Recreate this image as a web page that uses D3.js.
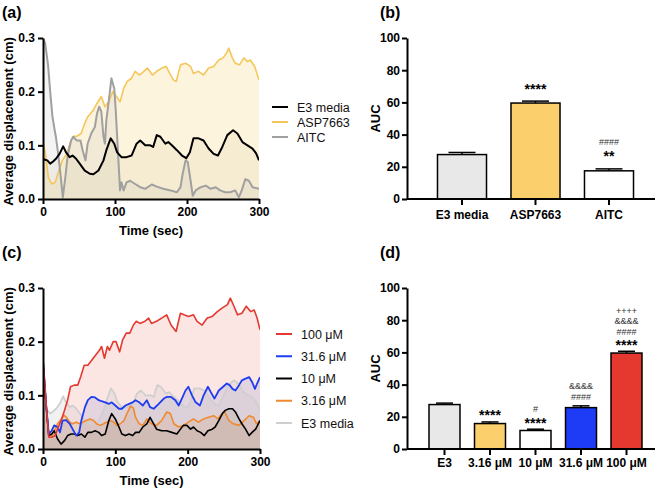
<!DOCTYPE html>
<html><head><meta charset="utf-8">
<script src="https://cdn.jsdelivr.net/npm/d3@7"></script>
<style>body{margin:0;background:#fff} svg{display:block}</style>
</head><body><svg id="c" width="658" height="491"></svg>
<script>
// ---------------- DATA ----------------
// Panel (a) / (c) time series (time in sec, displacement in cm)
const e3Time = [0,3,6,10,14,18,23,28,32,37,41,46,51,58,65,70,77,84,88,94,99,103,109,116,123,130,135,142,149,153,158,163,170,174,179,186,193,199,204,209,216,223,230,237,243,249,256,264,270,277,284,291,296,300];
const e3Vals = [.075,.073,.072,.066,.07,.075,.084,.098,.087,.078,.081,.075,.066,.053,.047,.046,.053,.072,.091,.113,.103,.087,.078,.078,.081,.103,.109,.1,.1,.097,.119,.116,.103,.106,.1,.091,.081,.076,.087,.113,.113,.109,.094,.084,.081,.097,.119,.128,.122,.106,.1,.094,.085,.072];

const aspTime = [0,4,7.5,12,17,22,27,33,38,42,47,53,58,62,70,75,81,86,91,97,102,107,112,117,123,128,134,140,145,152,158,165,171,176,181,185,191,198,205,209,216,223,230,237,244,250,255,258,263,267,273,279,284,288,294,300];
const aspVals = [.109,.078,.04,.028,.031,.053,.072,.084,.106,.117,.117,.122,.141,.153,.166,.178,.191,.172,.181,.2,.191,.181,.206,.219,.225,.238,.231,.238,.244,.231,.238,.244,.247,.234,.222,.219,.25,.253,.247,.234,.238,.231,.244,.247,.259,.263,.272,.281,.263,.253,.25,.263,.256,.259,.247,.222];

const aitcTime = [0,3,7,10,13,16,18,21,24,27.5,31,34,39,42,47,52,55,59,62,67,72,75,78,81,84,86,88,92,95,99,101,105,107,109,112,116,121,128,135,142,151,158,167,177,186,191,194,198,201,205,208,212,219,226,233,240,246,253,260,267,272,276,281,286,291,300];
const aitcVals = [.3,.29,.25,.2,.155,.13,.115,.085,.05,.003,.04,.078,.109,.116,.109,.109,.091,.072,.103,.122,.134,.159,.172,.163,.116,.103,.147,.19,.225,.206,.166,.066,.016,.031,.016,.031,.034,.028,.022,.019,.027,.023,.019,.016,.0125,.022,.047,.072,.069,.034,.006,.016,.022,.025,.019,.022,.016,.0125,.0125,.016,.003,.016,.037,.034,.022,.019];

const c100Time = [0,4.6,8,12,17,20,25,29,34,38,43,48,52,57,62,66,71,78,81,85,89,92,97,101,106,110,115,120,125,129,134,141,146,150,157,164,171,177,184,190,195,201,208,213,220,227,234,241,248,255,259,264,269,275,281,287,292,296,300];
const c100Vals = [.166,.078,.022,.022,.025,.037,.053,.069,.091,.116,.119,.119,.134,.156,.156,.163,.172,.184,.191,.169,.191,.184,.2,.2,.181,.203,.216,.216,.231,.238,.234,.238,.244,.234,.238,.244,.25,.231,.219,.253,.25,.247,.25,.238,.231,.244,.247,.256,.263,.269,.281,.266,.25,.253,.266,.256,.259,.244,.222];

const c31Time = [0,4.6,8,12,15.5,20,23.5,27,32,37,41,46,50,53,58,62,67,72,77,81,86,91,95,100,105,109,114,119,124,128,133,138,143.5,148,153,160,167,171,177,183,187.5,192,197,201,206,211,217,222,228,232,237,243,249,254,258,262,266,271,275,280,285,289,293,296,300];
const c31Vals = [.166,.078,.028,.034,.044,.041,.031,.053,.054,.047,.037,.025,.031,.053,.078,.091,.097,.096,.091,.089,.087,.084,.087,.081,.075,.075,.081,.084,.087,.091,.087,.081,.091,.078,.075,.084,.094,.097,.097,.091,.081,.094,.109,.116,.1,.087,.081,.1,.116,.106,.094,.109,.116,.122,.119,.112,.109,.119,.128,.131,.134,.125,.112,.122,.134];

const c10Time = [0,4.6,8,12,15.5,20,25,30,34,39,44,48,53,58,62,67,72,77,81,86,91,95,100,105,109,114,119,124,128,133,138,143.5,148,153,157,164,171,178,185,190,194,199,204,208,213,218,223,228,234,238,243,248,252,257,262,266,271,275,280,285,289,294,300];
const c10Vals = [.16,.078,.025,.028,.034,.019,.009,.016,.025,.028,.028,.025,.028,.022,.031,.031,.034,.031,.025,.028,.053,.066,.056,.041,.028,.025,.028,.025,.031,.031,.041,.047,.059,.047,.037,.034,.034,.031,.028,.037,.044,.044,.037,.041,.034,.031,.025,.034,.037,.041,.053,.066,.072,.075,.075,.069,.056,.047,.037,.025,.031,.037,.053];

const c3Time = [0,4.6,8,12,16,20,25,29,33,37,41,46,51,55,60,65,70,74,79,84,88,93,98,102,107,112,116,121,125,128,133,138,143.5,150,157,164,171,176,181,187.5,194,201,208,215,222,229,236,242,247,251,257,263,271,278,285,291,295,300];
const c3Vals = [.166,.072,.028,.025,.034,.047,.055,.063,.058,.05,.047,.05,.047,.05,.053,.056,.053,.047,.044,.047,.05,.053,.05,.044,.047,.053,.066,.08,.076,.059,.047,.044,.056,.047,.044,.053,.069,.066,.047,.041,.044,.05,.056,.05,.056,.059,.062,.056,.066,.069,.053,.047,.044,.053,.062,.059,.047,.053];

const lineTicksX = [0,100,200,300];
const lineTicksY = [0,0.1,0.2,0.3];

// Panel (b)
const bCats = ["E3 media","ASP7663","AITC"];
const bVals = [27.6,59.6,17.5];
const bErr  = [1.3,1.2,1.2];
const bAnn  = [[],["****"],["**","####"]];

// Panel (d)
const dCats = ["E3","3.16 μM","10 μM","31.6 μM","100 μM"];
const dVals = [27.6,15.8,11.5,25.7,59.6];
const dErr  = [0.9,1.0,0.8,1.1,1.1];
const dAnn  = [[],["****"],["****","#"],["####","&&&&"],["****","####","&&&&","++++"]];

const barTicksY = [0,20,40,60,80,100];

// ---------------- DRAW ----------------
const FONT = '"Liberation Sans", Arial, Helvetica, sans-serif';
const svg = d3.select('#c');
const C = {yellow:'#f5c65a', gray:'#a0a0a0', black:'#000', red:'#e5392f', blue:'#1e3cf0', orange:'#ef8a2e', lgray:'#cfcfcf'};

function styleAxis(g, fs){
  g.select('.domain').attr('stroke','#000').attr('stroke-width',2);
  g.selectAll('.tick line').attr('stroke','#000').attr('stroke-width',2);
  g.selectAll('.tick text').attr('font-family',FONT).attr('font-weight','bold')
    .attr('font-size',fs||12).attr('fill','#000');
}
function zip(t,v){ return t.map((d,i)=>[d,v[i]]); }

function panelLabel(txt,x,y){
  svg.append('text').attr('x',x).attr('y',y).attr('font-family',FONT).attr('font-weight','bold')
    .attr('font-size',16).text(txt);
}

function linePanel(opt){
  const x = d3.scaleLinear().domain([0,300]).range([opt.x0,opt.x1]);
  const y = d3.scaleLinear().domain([0,0.3]).range([opt.yb,opt.yt]);
  const g = svg.append('g');
  const id = 'clip'+opt.id;
  svg.append('clipPath').attr('id',id).append('rect')
    .attr('x',opt.x0).attr('y',opt.yt-1).attr('width',opt.x1-opt.x0).attr('height',opt.yb-opt.yt+1);
  const area = d3.area().x(d=>x(d[0])).y0(y(0)).y1(d=>y(d[1]));
  const line = d3.line().x(d=>x(d[0])).y(d=>y(d[1]));
  const pg = g.append('g').attr('clip-path',`url(#${id})`);
  opt.series.forEach(s=>{
    pg.append('path').datum(zip(s.t,s.v)).attr('d',area).attr('fill',s.fill).attr('fill-opacity',s.fo).attr('stroke','none');
  });
  opt.drawOrder.forEach(i=>{
    const s = opt.series[i];
    pg.append('path').datum(zip(s.t,s.v)).attr('d',line).attr('fill','none')
      .attr('stroke',s.color).attr('stroke-width',s.w).attr('stroke-linejoin','round');
  });
  const ax = g.append('g').attr('transform',`translate(0,${opt.yb})`)
    .call(d3.axisBottom(x).tickValues(lineTicksX).tickSize(5).tickSizeOuter(0).tickPadding(3));
  styleAxis(ax);
  const ay = g.append('g').attr('transform',`translate(${opt.x0},0)`)
    .call(d3.axisLeft(y).tickValues(lineTicksY).tickFormat(d3.format('.1f')).tickSize(5).tickSizeOuter(0).tickPadding(3));
  styleAxis(ay);
  g.append('text').attr('x',(opt.x0+opt.x1)/2).attr('y',opt.yb+36).attr('text-anchor','middle')
    .attr('font-family',FONT).attr('font-weight','bold').attr('font-size',13).text('Time (sec)');
  g.append('text').attr('transform',`translate(${opt.x0-30},${(opt.yt+opt.yb)/2+3}) rotate(-90)`)
    .attr('text-anchor','middle').attr('font-family',FONT).attr('font-weight','bold').attr('font-size',13)
    .text('Average displacement (cm)');
  // legend
  const ly = d3.scalePoint().domain(opt.legend.map((d,i)=>i)).range([opt.ly0,opt.ly1]);
  opt.legend.forEach((i,k)=>{
    const s = opt.series[i];
    g.append('line').attr('x1',opt.lx).attr('x2',opt.lx+16).attr('y1',ly(k)).attr('y2',ly(k))
      .attr('stroke',s.color).attr('stroke-width',2);
    g.append('text').attr('x',opt.lx+25).attr('y',ly(k)).attr('dy','0.36em')
      .attr('font-family',FONT).attr('font-size',12.5).attr('fill','#111').text(s.name);
  });
}

function barPanel(opt){
  const x = d3.scaleBand().domain(opt.cats).range([opt.bx0,opt.bx1]).paddingInner(opt.pi).paddingOuter(opt.pi/2);
  const y = d3.scaleLinear().domain([0,100]).range([opt.yb,opt.yt]);
  const g = svg.append('g');
  const bw = x.bandwidth();
  opt.cats.forEach((c,i)=>{
    const cx = x(c)+bw/2;
    // error bar
    g.append('line').attr('x1',cx).attr('x2',cx).attr('y1',y(opt.vals[i])).attr('y2',y(opt.vals[i]+opt.err[i]))
      .attr('stroke','#000').attr('stroke-width',1.5);
    g.append('line').attr('x1',cx-bw*opt.cap/2).attr('x2',cx+bw*opt.cap/2)
      .attr('y1',y(opt.vals[i]+opt.err[i])).attr('y2',y(opt.vals[i]+opt.err[i]))
      .attr('stroke','#000').attr('stroke-width',1.5);
    g.append('rect').attr('x',x(c)).attr('width',bw).attr('y',y(opt.vals[i]))
      .attr('height',y(0)-y(opt.vals[i])).attr('fill',opt.colors[i]).attr('stroke','#000').attr('stroke-width',1.5);
    // annotations (bottom to top)
    let yy = y(opt.vals[i]+opt.err[i]) - opt.gap;
    opt.ann[i].forEach((t,k)=>{
      const star = t[0]==='*';
      const fs = star ? 14 : 9;
      const base = star ? yy+7.5 : yy+3.3;
      g.append('text').attr('x',cx).attr('y',base).attr('text-anchor','middle')
        .attr('font-family',FONT).attr('font-weight',star?'bold':'normal').attr('font-size',fs)
        .attr('fill',star?'#000':'#333').text(t);
      yy -= (k===0 ? opt.step0 : opt.step);
    });
  });
  const ax = g.append('g').attr('transform',`translate(0,${opt.yb})`)
    .call(d3.axisBottom(x).tickSize(6).tickSizeOuter(0).tickPadding(opt.tp));
  ax.select('.domain').attr('d',`M${opt.ax0},0H${opt.ax1}`);
  styleAxis(ax, 12);
  const ay = g.append('g').attr('transform',`translate(${opt.ax0},0)`)
    .call(d3.axisLeft(y).tickValues(barTicksY).tickSize(5).tickSizeOuter(0).tickPadding(2));
  styleAxis(ay, 12);
  g.append('text').attr('transform',`translate(${opt.ax0-27},${(opt.yt+opt.yb)/2}) rotate(-90)`)
    .attr('text-anchor','middle').attr('font-family',FONT).attr('font-weight','bold').attr('font-size',13).text('AUC');
}

// Panel (a)
panelLabel('(a)',2,18);
linePanel({id:'a',x0:43,x1:259,yt:38,yb:199,
  series:[
    {name:'E3 media',t:e3Time,v:e3Vals,color:C.black,fill:'#8a7a50',fo:0.08,w:2},
    {name:'ASP7663',t:aspTime,v:aspVals,color:C.yellow,fill:'#f8d478',fo:0.25,w:1.6},
    {name:'AITC',t:aitcTime,v:aitcVals,color:C.gray,fill:'#b8b8b8',fo:0.15,w:2}
  ],
  drawOrder:[1,2,0], legend:[0,1,2], lx:272, ly0:107, ly1:137});

// Panel (c)
panelLabel('(c)',2,258);
linePanel({id:'c',x0:43,x1:260,yt:288,yb:449,
  series:[
    {name:'100 μM',t:c100Time,v:c100Vals,color:C.red,fill:'#f59a95',fo:0.25,w:1.6},
    {name:'31.6 μM',t:c31Time,v:c31Vals,color:C.blue,fill:'#7b86c8',fo:0.18,w:1.8},
    {name:'10 μM',t:c10Time,v:c10Vals,color:C.black,fill:'#6a5030',fo:0.12,w:1.6},
    {name:'3.16 μM',t:c3Time,v:c3Vals,color:C.orange,fill:'#d08a4a',fo:0.2,w:1.6},
    {name:'E3 media',t:e3Time,v:e3Vals,color:C.lgray,fill:'#c8c8c8',fo:0.25,w:1.8}
  ],
  drawOrder:[4,3,2,1,0], legend:[0,1,2,3,4], lx:276, ly0:334, ly1:423});

// Panel (b)
panelLabel('(b)',380,18);
barPanel({cats:bCats,vals:bVals,err:bErr,ann:bAnn,colors:['#e8e8e8','#fbcf6b','#ffffff'],
  bx0:425.25,bx1:645.75,pi:0.333,ax0:407,ax1:655,yt:38,yb:199,cap:0.55,gap:15,step0:12,step:11,tp:5});

// Panel (d)
panelLabel('(d)',380,258);
barPanel({cats:dCats,vals:dVals,err:dErr,ann:dAnn,colors:['#e8e8e8','#fbcf6b','#ffffff','#1e3cf5','#e5392f'],
  bx0:421.75,bx1:649.25,pi:0.319,ax0:407,ax1:655,yt:288,yb:449,cap:0.55,gap:9,step0:11,step:10.5,tp:3});
</script></body></html>
